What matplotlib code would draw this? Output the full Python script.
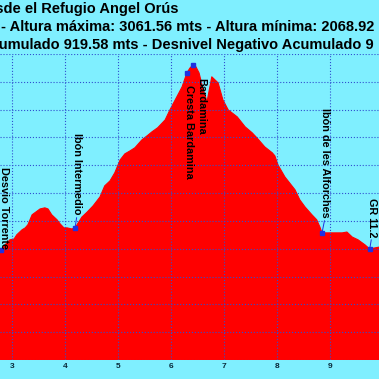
import matplotlib
matplotlib.use("Agg")
import matplotlib.pyplot as plt

# profile (km, metres)
km = [2.77, 2.87, 2.96, 3.04, 3.09, 3.19, 3.25, 3.30, 3.38, 3.43, 3.53, 3.62, 3.68, 3.75,
      3.85, 3.91, 3.98, 4.04, 4.13, 4.19, 4.25, 4.32, 4.42, 4.53, 4.66, 4.75, 4.85, 4.94,
      5.04, 5.13, 5.23, 5.32, 5.45, 5.57, 5.64, 5.75, 5.89, 5.98, 6.08, 6.21, 6.30, 6.36,
      6.42, 6.47, 6.53, 6.60, 6.68, 6.77, 6.89, 6.98, 7.08, 7.25, 7.40, 7.53, 7.62, 7.77,
      7.91, 7.96, 8.02, 8.15, 8.34, 8.43, 8.53, 8.66, 8.75, 8.81, 8.85, 9.04, 9.23, 9.32,
      9.42, 9.53, 9.66, 9.75, 9.85, 9.93]
elev = [2392, 2414, 2432, 2435, 2450, 2468, 2475, 2486, 2522, 2529, 2543, 2547, 2543, 2522,
        2504, 2489, 2475, 2475, 2471, 2475, 2493, 2514, 2532, 2554, 2586, 2626, 2644, 2673,
        2719, 2741, 2752, 2763, 2791, 2809, 2820, 2835, 2863, 2899, 2935, 2982, 3032, 3050,
        3061.56, 3054, 3032, 2978, 2928, 3018, 2996, 2935, 2899, 2874, 2838, 2817, 2799, 2766,
        2745, 2734, 2701, 2658, 2612, 2576, 2550, 2522, 2504, 2478, 2457, 2457, 2457, 2460,
        2442, 2432, 2414, 2399, 2403, 2406]

# waypoints
wp_names = ["Desvio Torrente", "Ibón Intermedio", "Cresta Bardamina", "Bardamina",
            "Ibón de les Alforches", "GR 11.2"]
wp_km = [2.79, 4.19, 6.30, 6.42, 8.85, 9.75]
wp_elev = [2395, 2475, 3032, 3061.56, 2457, 2399]

x_ticks = [3, 4, 5, 6, 7, 8, 9]
title1 = "desde el Refugio Angel Orús"
title2 = "- Altura máxima: 3061.56 mts - Altura mínima: 2068.92 mts"
title3 = "Desnivel Positivo Acumulado 919.58 mts - Desnivel Negativo Acumulado 9"

plt.rcParams["font.family"] = ["Liberation Sans", "DejaVu Sans"]
BG = "#7FEFFF"
RED = "#FF0000"
BLUE = "#2030E0"
W = 379.0

fig = plt.figure(figsize=(3.79, 3.79), dpi=100, facecolor=BG)
ax = fig.add_axes([0, 19 / W, 1, 306 / W])
ax.set_facecolor(BG)

ax.fill_between(km, elev, 2000, color=RED, lw=0)
ax.plot(km, elev, color=RED, lw=0.8)
ax.set_xlim(2.774, 9.925)
ax.set_ylim(2000, 3100)

ax.set_xticks(x_ticks)
ax.set_yticks(range(2000, 3101, 100))
ax.tick_params(axis="x", length=0, pad=2, labelsize=6, labelcolor="#0a2a3a")
ax.tick_params(axis="y", length=0, labelleft=False)
for t in ax.get_xticklabels():
    t.set_fontweight("bold")
ax.grid(True, color="#3050d0", ls=":", lw=0.8)
ax.set_axisbelow(False)
for s in ax.spines.values():
    s.set_visible(False)

ax.plot(wp_km, wp_elev, "s", ms=2.5, color=BLUE, zorder=5)

# (dx px, gap px, side)
lab_pos = [(3, 1, "up"), (2, 13, "up"), (2, 12, "down"), (8, 13, "down"), (3, 15, "up"), (2, 12, "up")]
for name, x, y, (dx, gap, side) in zip(wp_names, wp_km, wp_elev, lab_pos):
    if side == "up":
        ax.annotate(name, xy=(x, y), xytext=(dx, gap), textcoords="offset pixels",
                    rotation=-90, rotation_mode="anchor", ha="right", va="center",
                    fontsize=7.8, fontweight="bold", color="black", zorder=6,
                    arrowprops=dict(arrowstyle="-", color=BLUE, lw=0.7, shrinkA=0, shrinkB=0,
                                    relpos=(0.5, 0)) if gap > 3 else None)
    else:
        ax.annotate(name, xy=(x, y), xytext=(dx, -gap), textcoords="offset pixels",
                    rotation=-90, rotation_mode="anchor", ha="left", va="center",
                    fontsize=7.8, fontweight="bold", color="black", zorder=6)

fs = 10.5
fig.text(178 / W, 1 - 13.3 / W, title1, ha="right", va="baseline", fontsize=fs, fontweight="bold")
fig.text(1 / W, 1 - 31 / W, title2, ha="left", va="baseline", fontsize=fs, fontweight="bold")
r = fig.canvas.get_renderer()
pre = fig.text(0, 0, "Desnivel Positivo Ac", fontsize=fs, fontweight="bold")
w = pre.get_window_extent(r).width
pre.remove()
fig.text((-1 - w) / W, 1 - 49 / W, title3, ha="left", va="baseline", fontsize=fs, fontweight="bold")

fig.savefig("out.png", dpi=100, facecolor=BG)
